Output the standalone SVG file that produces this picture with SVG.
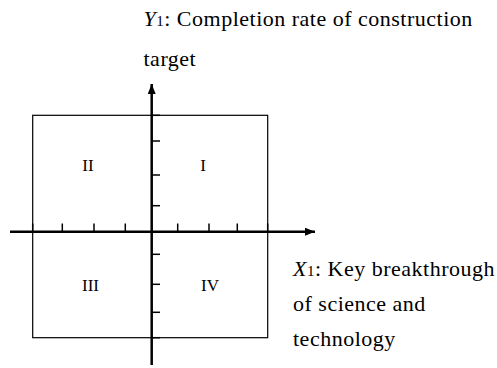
<svg xmlns="http://www.w3.org/2000/svg" width="497" height="368" viewBox="0 0 497 368">
<style>
.t{font-family:"Liberation Serif","Times New Roman",serif;font-size:22px;letter-spacing:0.5px;fill:#000}
.q{font-family:"Liberation Serif","Times New Roman",serif;font-size:17px;fill:#000;text-anchor:middle}
.box{fill:none;stroke:#000;stroke-width:1.2}
.ax{stroke:#000;stroke-width:2.5;fill:none}
.tk{stroke:#000;stroke-width:1.5}
</style>
<defs>
<marker id="ah" viewBox="0 0 10 8" refX="10" refY="4" markerWidth="10" markerHeight="8" markerUnits="userSpaceOnUse" orient="auto">
<path d="M0,0 L10,4 L0,8 Z" fill="#000"/>
</marker>
</defs>
<g id="quadrants">
<rect class="box" x="32.7" y="115.3" width="235" height="222.4"/>
</g>
<g id="connectors">
<line class="ax" x1="10" y1="231.7" x2="315" y2="231.7" marker-end="url(#ah)"/>
<line class="ax" x1="151.7" y1="365" x2="151.7" y2="84" marker-end="url(#ah)"/>
<g class="tk">
<line x1="32.7" y1="223.5" x2="32.7" y2="231.7"/>
<line x1="62.3" y1="223.5" x2="62.3" y2="231.7"/>
<line x1="94" y1="223.5" x2="94" y2="231.7"/>
<line x1="125.3" y1="223.5" x2="125.3" y2="231.7"/>
<line x1="177.7" y1="223.5" x2="177.7" y2="231.7"/>
<line x1="209" y1="223.5" x2="209" y2="231.7"/>
<line x1="237.3" y1="223.5" x2="237.3" y2="231.7"/>
<line x1="267.7" y1="223.5" x2="267.7" y2="231.7"/>
<line x1="151.7" y1="115.3" x2="160" y2="115.3"/>
<line x1="151.7" y1="141" x2="160" y2="141"/>
<line x1="151.7" y1="175" x2="160" y2="175"/>
<line x1="151.7" y1="205.7" x2="160" y2="205.7"/>
<line x1="151.7" y1="254.3" x2="160" y2="254.3"/>
<line x1="151.7" y1="284.3" x2="160" y2="284.3"/>
<line x1="151.7" y1="312.3" x2="160" y2="312.3"/>
<line x1="151.7" y1="337.7" x2="160" y2="337.7"/>
</g>
</g>
<g id="q1"><text class="q" x="203" y="171">I</text></g>
<g id="q2"><text class="q" x="88" y="171">II</text></g>
<g id="q3"><text class="q" x="90.5" y="291">III</text></g>
<g id="q4"><text class="q" x="210" y="291">IV</text></g>
<g id="ylabel">
<text class="t" x="143.5" y="26"><tspan font-style="italic">Y</tspan><tspan font-size="15">1</tspan>: Completion rate of construction</text>
<text class="t" x="143.5" y="66">target</text>
</g>
<g id="xlabel">
<text class="t" x="293" y="276"><tspan font-style="italic">X</tspan><tspan font-size="15">1</tspan>: Key breakthrough</text>
<text class="t" x="293" y="311">of science and</text>
<text class="t" x="293" y="346">technology</text>
</g>
</svg>
